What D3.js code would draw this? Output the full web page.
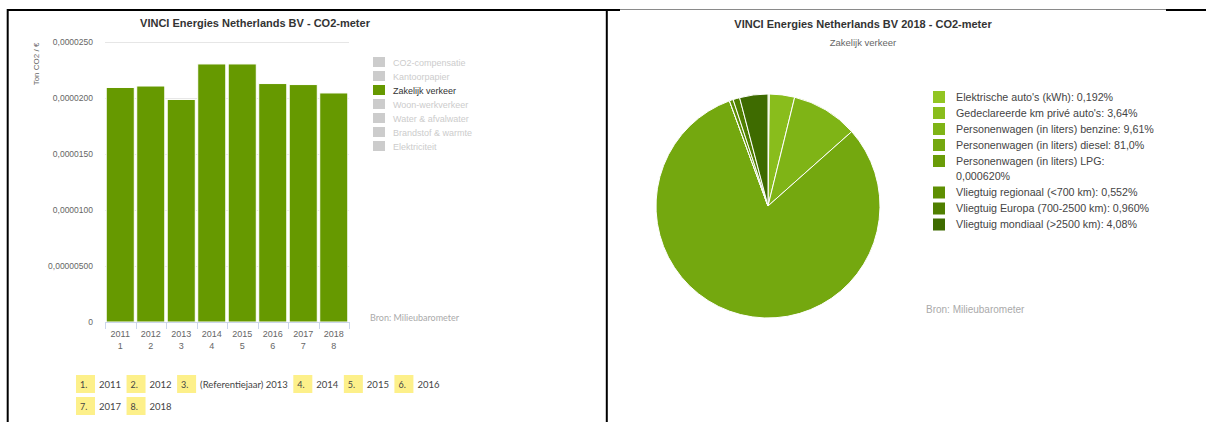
<!DOCTYPE html>
<html>
<head>
<meta charset="utf-8">
<script src="https://cdn.jsdelivr.net/npm/d3@7"></script>
<style>
  body { margin: 0; background: #fff; }
  svg { display: block; }
</style>
</head>
<body>
<div id="chart"></div>
<script>
// data
var years = ["2011", "2012", "2013", "2014", "2015", "2016", "2017", "2018"];
var yearIndex = ["1", "2", "3", "4", "5", "6", "7", "8"];
var co2PerEuro = [20.94e-6, 21.07e-6, 19.87e-6, 23.04e-6, 23.04e-6, 21.29e-6, 21.20e-6, 20.45e-6];
var yTicks = [0, 5e-6, 10e-6, 15e-6, 20e-6, 25e-6];
var yTickLabels = ["0", "0,00000500", "0,0000100", "0,0000150", "0,0000200", "0,0000250"];
var seriesNames = ["CO2-compensatie", "Kantoorpapier", "Zakelijk verkeer", "Woon-werkverkeer",
                   "Water & afvalwater", "Brandstof & warmte", "Elektriciteit"];
var activeSeries = "Zakelijk verkeer";
var bottomLabels = ["2011", "2012", "(Referentiejaar) 2013", "2014", "2015", "2016", "2017", "2018"];

var pieLabels = ["Elektrische auto's (kWh)", "Gedeclareerde km privé auto's",
                 "Personenwagen (in liters) benzine", "Personenwagen (in liters) diesel",
                 "Personenwagen (in liters) LPG", "Vliegtuig regionaal (<700 km)",
                 "Vliegtuig Europa (700-2500 km)", "Vliegtuig mondiaal (>2500 km)"];
var pieShares = [0.192, 3.64, 9.61, 81.0, 0.000620, 0.552, 0.960, 4.08];
var pieColors = ["#92c522", "#89bd1c", "#7fb416", "#74a80f", "#6a9c08", "#5e8f02", "#507f00", "#3e6b00"];

var green = "#669900";

var svg = d3.select("#chart")
    .append("svg")
    .attr("width", 1206)
    .attr("height", 422);

// table borders round the two pictures
svg.append("line").attr("x1", 7).attr("x2", 620).attr("y1", 10).attr("y2", 10)
    .attr("stroke", "#000").attr("stroke-width", 2);
svg.append("line").attr("x1", 620).attr("x2", 1166).attr("y1", 9.5).attr("y2", 9.5)
    .attr("stroke", "#8a8a8a").attr("stroke-width", 1);
svg.append("line").attr("x1", 1166).attr("x2", 1206).attr("y1", 10).attr("y2", 10)
    .attr("stroke", "#000").attr("stroke-width", 2);
svg.append("line").attr("x1", 7.7).attr("x2", 7.7).attr("y1", 9).attr("y2", 422)
    .attr("stroke", "#000").attr("stroke-width", 2);
svg.append("line").attr("x1", 606.8).attr("x2", 606.8).attr("y1", 9).attr("y2", 422)
    .attr("stroke", "#000").attr("stroke-width", 2);

// ---------- bar chart ----------
var bar = svg.append("g");

bar.append("text")
    .attr("x", 255).attr("y", 27)
    .attr("text-anchor", "middle")
    .style("font", "bold 11px 'Liberation Sans', Arial, sans-serif")
    .attr("fill", "#333")
    .text("VINCI Energies Netherlands BV - CO2-meter");

var x = d3.scaleBand()
    .domain(years)
    .range([105, 349])
    .paddingInner(0.08)
    .paddingOuter(0.04);

var y = d3.scaleLinear()
    .domain([0, 25e-6])
    .range([322, 42]);

// grid lines
bar.append("g")
    .selectAll("line")
    .data(yTicks.slice(1))
    .enter()
    .append("line")
    .attr("x1", 105).attr("x2", 349)
    .attr("y1", function(d) { return Math.round(y(d)) + 0.5; })
    .attr("y2", function(d) { return Math.round(y(d)) + 0.5; })
    .attr("stroke", "#e6e6e6");

// Y axis
var yAxis = bar.append("g")
    .attr("transform", "translate(96,0)")
    .call(d3.axisLeft(y).tickValues(yTicks)
        .tickFormat(function(d, i) { return yTickLabels[i]; })
        .tickSize(0).tickPadding(3));
yAxis.select(".domain").remove();
yAxis.selectAll("text")
    .attr("fill", "#666")
    .style("font", "8.5px 'Liberation Sans', Arial, sans-serif");

bar.append("text")
    .attr("transform", "translate(39,64) rotate(-90)")
    .attr("text-anchor", "middle")
    .style("font", "8px 'Liberation Sans', Arial, sans-serif")
    .attr("fill", "#666")
    .text("Ton CO2 / €");

// bars
bar.append("g")
    .selectAll("rect")
    .data(co2PerEuro)
    .enter()
    .append("rect")
    .attr("x", function(d, i) { return x(years[i]); })
    .attr("y", function(d) { return y(d); })
    .attr("width", x.bandwidth())
    .attr("height", function(d) { return y(0) - y(d); })
    .attr("fill", green)
    .attr("stroke", "#fff")
    .attr("stroke-width", 1);

// X axis with ticks on category boundaries
bar.append("line")
    .attr("x1", 105).attr("x2", 349).attr("y1", 322.5).attr("y2", 322.5)
    .attr("stroke", "#ccd6eb");
bar.append("g")
    .selectAll("line")
    .data(d3.range(years.length + 1))
    .enter()
    .append("line")
    .attr("x1", function(i) { return Math.round(105 + i * (244 / years.length)) + 0.5; })
    .attr("x2", function(i) { return Math.round(105 + i * (244 / years.length)) + 0.5; })
    .attr("y1", 322).attr("y2", 329)
    .attr("stroke", "#ccd6eb");

var xl = bar.append("g")
    .selectAll("text")
    .data(years)
    .enter()
    .append("text")
    .attr("x", function(d) { return x(d) + x.bandwidth() / 2; })
    .attr("text-anchor", "middle")
    .style("font", "9px 'Liberation Sans', Arial, sans-serif")
    .attr("fill", "#666");
xl.append("tspan").attr("x", function(d) { return x(d) + x.bandwidth() / 2; }).attr("y", 337).text(function(d) { return d; });
xl.append("tspan").attr("x", function(d) { return x(d) + x.bandwidth() / 2; }).attr("y", 349).text(function(d, i) { return yearIndex[i]; });

// series legend
var leg = bar.append("g")
    .selectAll("g")
    .data(seriesNames)
    .enter()
    .append("g")
    .attr("transform", function(d, i) { return "translate(373," + (57 + i * 14) + ")"; });
leg.append("rect")
    .attr("width", 12).attr("height", 10)
    .attr("fill", function(d) { return d === activeSeries ? green : "#ccc"; });
leg.append("text")
    .attr("x", 20).attr("y", 8.5)
    .style("font", "9px 'Liberation Sans', Arial, sans-serif")
    .attr("fill", function(d) { return d === activeSeries ? "#333" : "#ccc"; })
    .text(function(d) { return d; });

bar.append("text")
    .attr("x", 370).attr("y", 321)
    .style("font", "9px Lato, sans-serif")
    .attr("fill", "#aaa")
    .text("Bron: Milieubarometer");

// numbered year key under the chart
var key = bar.append("g");
var kx = 76, ky = 375;
bottomLabels.forEach(function(label, i) {
    if (i === 6) { kx = 76; ky = 397; }
    var g = key.append("g").attr("transform", "translate(" + kx + "," + ky + ")");
    g.append("rect").attr("width", 19).attr("height", 18).attr("fill", "#fdf08a");
    g.append("text").attr("x", 4).attr("y", 12.5)
        .style("font", "9px Lato, sans-serif").attr("fill", "#444")
        .text(yearIndex[i] + ".");
    var t = g.append("text").attr("x", 23).attr("y", 12.5)
        .style("font", "9.5px Lato, sans-serif").attr("fill", "#444")
        .text(label);
    kx += 23 + t.node().getComputedTextLength() + 5.5;
});

// ---------- pie chart ----------
var pie = svg.append("g");

pie.append("text")
    .attr("x", 863).attr("y", 28)
    .attr("text-anchor", "middle")
    .style("font", "bold 11px 'Liberation Sans', Arial, sans-serif")
    .attr("fill", "#333")
    .text("VINCI Energies Netherlands BV 2018 - CO2-meter");
pie.append("text")
    .attr("x", 863).attr("y", 46)
    .attr("text-anchor", "middle")
    .style("font", "9.5px 'Liberation Sans', Arial, sans-serif")
    .attr("fill", "#666")
    .text("Zakelijk verkeer");

var arcs = d3.pie().sort(null)(pieShares);
var arc = d3.arc().innerRadius(0).outerRadius(112);

pie.append("g")
    .attr("transform", "translate(768,206)")
    .selectAll("path")
    .data(arcs)
    .enter()
    .append("path")
    .attr("d", arc)
    .attr("fill", function(d, i) { return pieColors[i]; })
    .attr("stroke", "#fff")
    .attr("stroke-width", 1)
    .attr("stroke-linejoin", "round");

var fmt = d3.format(".3r");
var legendY = 97;
pieLabels.forEach(function(label, i) {
    var g = pie.append("g").attr("transform", "translate(933," + legendY + ")");
    g.append("rect").attr("x", 0).attr("y", -6).attr("width", 12).attr("height", 12)
        .attr("fill", pieColors[i]);
    var full = label + ": " + fmt(pieShares[i]).replace(".", ",") + "%";
    var t = g.append("text").attr("x", 23).attr("y", 3.8)
        .style("font", "10.7px 'Liberation Sans', Arial, sans-serif")
        .attr("fill", "#444")
        .text(full);
    var lines = 1;
    if (t.node().getComputedTextLength() > 203) {
        // wrap the last word onto a new line
        var words = full.split(" ");
        var last = words.pop();
        t.text(words.join(" "));
        t.append("tspan").attr("x", 23).attr("dy", 15.5).text(last);
        lines = 2;
    }
    legendY += 16 + (lines - 1) * 15.5;
});

pie.append("text")
    .attr("x", 926).attr("y", 313)
    .style("font", "10px 'Liberation Sans', Arial, sans-serif")
    .attr("fill", "#aaa")
    .text("Bron: Milieubarometer");
</script>
</body>
</html>
